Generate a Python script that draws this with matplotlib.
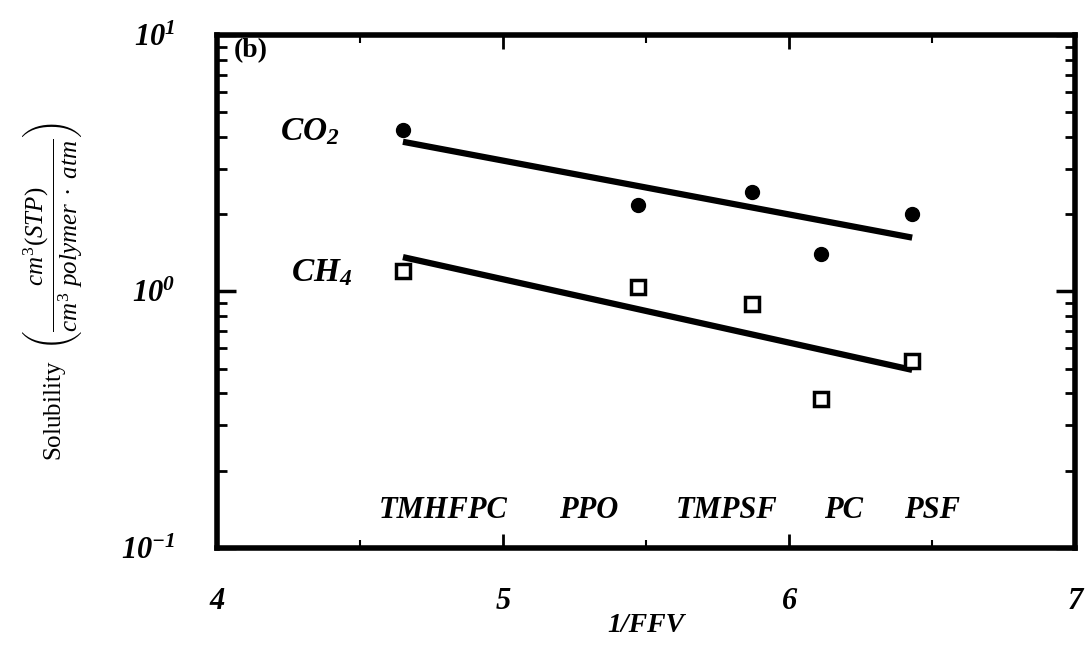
import numpy as np
import matplotlib
matplotlib.use('Agg')
import matplotlib.pyplot as plt
from matplotlib.ticker import LogLocator, NullFormatter, MultipleLocator

# data
ffv_inv   = [4.65, 5.47, 5.87, 6.11, 6.43]
co2_sol   = [4.26, 2.17, 2.44, 1.40, 2.00]
ch4_sol   = [1.20, 1.04, 0.89, 0.38, 0.536]
co2_fit_x = [4.65, 6.43]
co2_fit_y = [3.83, 1.62]
ch4_fit_x = [4.65, 6.43]
ch4_fit_y = [1.36, 0.494]
polymers  = ["TMHFPC", "PPO", "TMPSF", "PC", "PSF"]
label_x   = [4.79, 5.30, 5.78, 6.19, 6.50]

plt.rcParams['font.family'] = ['Liberation Serif', 'DejaVu Serif']
plt.rcParams['mathtext.fontset'] = 'custom'
plt.rcParams['mathtext.it'] = 'Liberation Serif:italic'
plt.rcParams['mathtext.rm'] = 'Liberation Serif'
plt.rcParams['mathtext.bf'] = 'Liberation Serif:bold:italic'

fig = plt.figure(figsize=(10.85, 6.46), dpi=100)
ax = fig.add_axes([0.2, 0.152, 0.791, 0.794])

ax.plot(co2_fit_x, co2_fit_y, color="black", linewidth=4.5, solid_capstyle="butt")
ax.plot(ch4_fit_x, ch4_fit_y, color="black", linewidth=4.5, solid_capstyle="butt")
ax.plot(ffv_inv, co2_sol, "o", color="black", markersize=10)
ax.plot(ffv_inv, ch4_sol, "s", color="black", markerfacecolor="white",
        markersize=10, markeredgewidth=2.5)

ax.set_yscale("log")
ax.set_xlim(4, 7)
ax.set_ylim(0.1, 10)

for s in ax.spines.values():
    s.set_linewidth(4)

ax.set_xticks([4, 5, 6, 7])
ax.set_xticklabels(["4", "5", "6", "7"])
ax.xaxis.set_minor_locator(MultipleLocator(0.5))
ax.tick_params(axis="x", which="major", direction="in", length=10, width=2,
               pad=28, top=True, labelsize=22)
ax.tick_params(axis="x", which="minor", direction="in", length=6, width=1.5, top=True)
for lab in ax.get_xticklabels():
    lab.set_fontweight("bold")
    lab.set_fontstyle("italic")

ax.set_yticks([0.1, 1, 10])
ax.set_yticklabels([r"$\mathbf{10^{-1}}$", r"$\mathbf{10^{0}}$", r"$\mathbf{10^{1}}$"])
ax.yaxis.set_minor_locator(LogLocator(base=10, subs=np.arange(2, 10)))
ax.yaxis.set_minor_formatter(NullFormatter())
ax.tick_params(axis="y", which="major", direction="in", length=14, width=2.5,
               right=True, labelsize=22, pad=30)
ax.tick_params(axis="y", which="minor", direction="in", length=7, width=2, right=True)

ax.set_xlabel("1/FFV", fontsize=20, fontweight="bold", fontstyle="italic", labelpad=-2)
ax.set_ylabel(r"Solubility  $\left(\dfrac{cm^3(STP)}{cm^3\ polymer\ \bullet\ atm}\right)$",
              fontsize=18, labelpad=26)

ax.text(4.06, 8.2, "(b)", fontsize=20, fontweight="bold")
ax.text(4.22, 3.9, r"$\mathbf{CO_2}$", fontsize=24)
ax.text(4.26, 1.1, r"$\mathbf{CH_4}$", fontsize=24)
for name, x in zip(polymers, label_x):
    ax.text(x, 0.14, name, fontsize=22, fontweight="bold", fontstyle="italic",
            ha="center", va="center")

fig.savefig("out.png", dpi=100)
